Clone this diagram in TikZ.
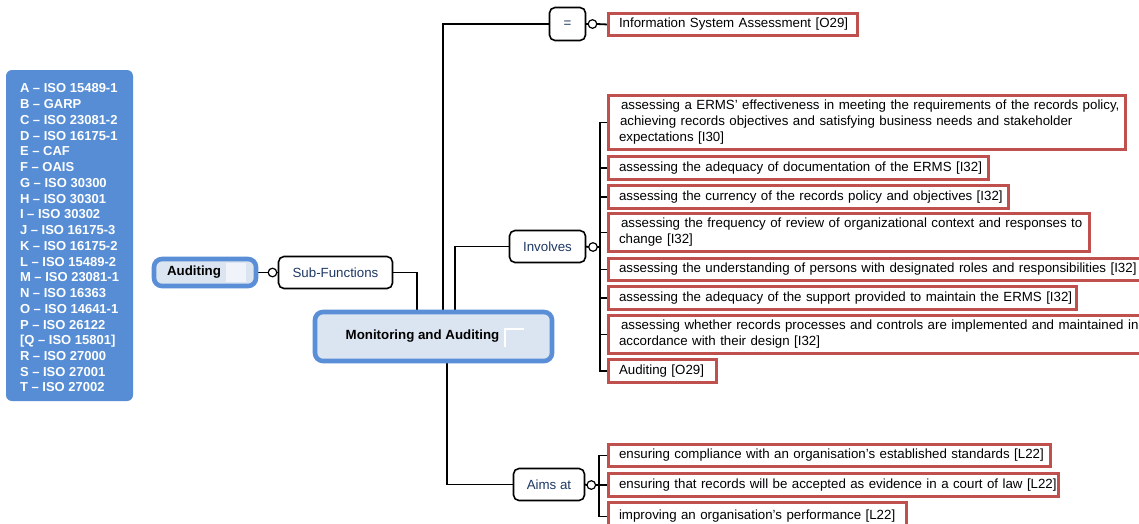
\documentclass[tikz,border=0pt]{standalone}
\usepackage{fontspec}
\setmainfont{Liberation Sans}
\usetikzlibrary{backgrounds}

\definecolor{keyblue}{RGB}{86,141,212}
\definecolor{topicline}{RGB}{90,142,214}
\definecolor{topicfill}{RGB}{219,229,241}
\definecolor{relblue}{RGB}{31,56,100}
\definecolor{itemred}{RGB}{192,80,77}
\definecolor{markfill}{RGB}{240,244,250}

\newcommand\mapfont{\fontsize{13.3}{16}\selectfont}
\newcommand\keyfont{\fontsize{13}{15.74}\selectfont\bfseries}

\begin{document}
\begin{tikzpicture}[x=1pt,y=-1pt,
  topic/.style={draw=topicline, line width=4.6pt, fill=topicfill, rounded corners=8pt,
    font=\mapfont\bfseries, inner sep=0pt, outer sep=0pt},
  relation/.style={draw=black, line width=1.6pt, fill=white, rounded corners=5.5pt,
    text=relblue, font=\mapfont, inner sep=0pt, outer sep=0pt},
  item/.style={draw=itemred, line width=3pt, fill=white, anchor=west,
    inner xsep=11pt, inner ysep=0pt, align=left, font=\mapfont, outer sep=0pt},
  knob/.style={circle, draw=black, line width=1.2pt, fill=white, minimum size=8.6pt,
    inner sep=0pt, outer sep=0pt},
  link/.style={line width=1.8pt, draw=black},
  keybox/.style={fill=keyblue, rounded corners=6pt, text=white, font=\keyfont,
    align=left, inner sep=0pt}]

\useasboundingbox (0,0) rectangle (1139,523);

% legend of standards
\node[keybox, minimum width=127, minimum height=331] (key) at (69.5,235.5)
  {\rule{0pt}{14pt}A – ISO 15489-1\\ B – GARP\\ C – ISO 23081-2\\ D – ISO 16175-1\\ E – CAF\\
   F – OAIS\\ G – ISO 30300\\ H – ISO 30301\\ I – ISO 30302\\ J – ISO 16175-3\\
   K – ISO 16175-2\\ L – ISO 15489-2\\ M – ISO 23081-1\\ N – ISO 16363\\
   O – ISO 14641-1\\ P – ISO 26122\\ {[}Q – ISO 15801{]}\\ R – ISO 27000\\
   S – ISO 27001\\ T – ISO 27002};

% main topics (the kern leaves room for the note mark at the right)
\node[topic, minimum width=237, minimum height=49] (mon) at (433.5,336.5)
  {Monitoring and Auditing\kern22pt\null};
\node[topic, minimum width=102, minimum height=27] (aud) at (205,272.5)
  {Auditing\kern22pt\null};
\fill[markfill] (226,263) rectangle (246,282);
\draw[white, line width=2pt] (505,347) -- (505,329) -- (524,329);

% relation boxes
\node[relation, minimum width=114, minimum height=32] (sub) at (335.5,272.5) {Sub-Functions};
\node[relation, minimum width=36, minimum height=33] (eq) at (567.5,24) {=};
\node[relation, minimum width=76, minimum height=32] (inv) at (547.5,246.5) {Involves};
\node[relation, minimum width=71, minimum height=32] (aim) at (549,484.5) {Aims at};

% knobs
\node[knob] (k1) at (272.5,272.5) {};
\node[knob] (keq) at (592.5,24) {};
\node[knob] (kinv) at (593,247) {};
\node[knob] (kaim) at (591.3,485) {};

% items
\node[item, minimum height=22, text width=227] (i0) at (608,24.5)
  {\mbox{Information System Assessment [O29]}};
\node[item, minimum height=54, text width=495] (v1) at (608,122.5)
  {\mbox{\hspace*{2pt}assessing a ERMS’ effectiveness in meeting the requirements of the records policy,}\\
   \mbox{\hspace*{1pt}achieving records objectives and satisfying business needs and stakeholder}\\
   \mbox{expectations [I30]}};
\node[item, minimum height=23, text width=358] (v2) at (608,168)
  {\mbox{assessing the adequacy of documentation of the ERMS [I32]}};
\node[item, minimum height=23, text width=378] (v3) at (608,197)
  {\mbox{assessing the currency of the records policy and objectives [I32]}};
\node[item, minimum height=38, text width=459] (v4) at (608,232.5)
  {\mbox{\hspace*{2pt}assessing the frequency of review of organizational context and responses to}\\
   \mbox{change [I32]}};
\node[item, minimum height=22, text width=515] (v5) at (608,269.5)
  {\mbox{assessing the understanding of persons with designated roles and responsibilities [I32]}};
\node[item, minimum height=23, text width=446] (v6) at (608,298)
  {\mbox{assessing the adequacy of the support provided to maintain the ERMS [I32]}};
\node[item, minimum height=38, text width=515] (v7) at (608,334.5)
  {\mbox{\hspace*{2pt}assessing whether records processes and controls are implemented and maintained in}\\
   \mbox{accordance with their design [I32]}};
\node[item, minimum height=23, text width=86] (v8) at (608,371)
  {\mbox{Auditing [O29]}};
\node[item, minimum height=22, text width=420] (a1) at (608,455.5)
  {\mbox{ensuring compliance with an organisation’s established standards [L22]}};
\node[item, minimum height=23, text width=428] (a2) at (608,485)
  {\mbox{ensuring that records will be accepted as evidence in a court of law [L22]}};
\node[item, minimum height=28, text width=276] (a3) at (608,516.5)
  {\mbox{improving an organisation’s performance [L22]}};

\coordinate (bI) at (600,247);
\coordinate (bA) at (599,485);

% connectors
\begin{scope}[on background layer]
  \fill[white] (0,0) rectangle (1139,523);
  \draw[link] (aud.east) -- (k1.west);
  \draw[link] (k1.east) -- (sub.west);
  \draw[link] (sub.east) -| ([xshift=102pt]mon.north west);
  \draw[link] (eq.west) -| ([xshift=128pt]mon.north west);
  \draw[link] (inv.west) -| ([xshift=140pt]mon.north west);
  \draw[link] (aim.west) -| ([xshift=132pt]mon.south west);
  \draw[link] (eq.east) -- (keq.west);
  \draw[link] (keq.east) -- (i0.west);
  \draw[link] (inv.east) -- (kinv.west);
  \draw[link] (kinv.east) -- (bI);
  \foreach \n in {v1,v2,v3,v4,v5,v6,v7,v8}
    \draw[link] (bI) |- (\n.west);
  \draw[link] (aim.east) -- (kaim.west);
  \draw[link] (kaim.east) -- (bA);
  \foreach \n in {a1,a2,a3}
    \draw[link] (bA) |- (\n.west);
\end{scope}
\end{tikzpicture}
\end{document}
